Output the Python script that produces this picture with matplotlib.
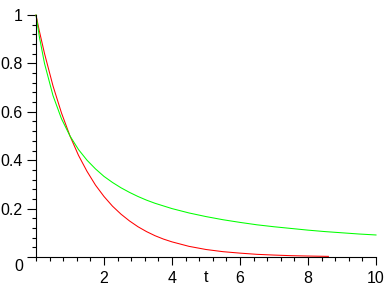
import matplotlib
matplotlib.use('Agg')
import matplotlib.pyplot as plt
from matplotlib.ticker import MultipleLocator
from matplotlib.transforms import ScaledTranslation

# valeurs
t_red = [0, 0.1, 0.25, 0.5, 0.75, 1, 1.25, 1.5, 1.75, 2, 2.25, 2.5, 2.75, 3, 3.25, 3.5,
         3.75, 4, 4.5, 5, 5.5, 6, 6.5, 7, 7.5, 8, 8.6]
y_red = [1, 0.933, 0.841, 0.707, 0.595, 0.5, 0.42, 0.354, 0.297, 0.25, 0.21, 0.177, 0.149,
         0.125, 0.105, 0.088, 0.074, 0.0625, 0.044, 0.031, 0.022, 0.016, 0.011, 0.008,
         0.0055, 0.004, 0.0026]
t_green = [0, 0.1, 0.25, 0.5, 0.75, 1, 1.25, 1.5, 1.75, 2, 2.25, 2.5, 2.75, 3, 3.25, 3.5,
           3.75, 4, 4.5, 5, 5.5, 6, 6.5, 7, 7.5, 8, 8.5, 9, 9.5, 10]
y_green = [1, 0.909, 0.8, 0.667, 0.571, 0.5, 0.444, 0.4, 0.364, 0.333, 0.308, 0.286, 0.267,
           0.25, 0.235, 0.222, 0.211, 0.2, 0.182, 0.167, 0.154, 0.143, 0.133, 0.125, 0.118,
           0.111, 0.105, 0.1, 0.095, 0.091]
xticks = [2, 4, 6, 8, 10]
yticks = [0, 0.2, 0.4, 0.6, 0.8, 1]
ylabels = ['0', '0.2', '0.4', '0.6', '0.8', '1']

plt.rcParams['font.family'] = ['Liberation Sans', 'DejaVu Sans']
fig = plt.figure(figsize=(3.88, 2.88), dpi=100)
ax = fig.add_axes([36/388, 31/288, 340/388, 242/288])

ax.plot(t_red, y_red, color='#ff0000', lw=0.75, clip_on=False)
ax.plot(t_green, y_green, color='#00ff00', lw=0.75, clip_on=False)

ax.set_xlim(0, 10); ax.set_ylim(0, 1)
for s in ['top', 'right']: ax.spines[s].set_visible(False)
for s in ['left', 'bottom']: ax.spines[s].set_linewidth(0.8)

ax.set_xticks(xticks); ax.xaxis.set_minor_locator(MultipleLocator(0.4))
ax.set_yticks(yticks); ax.set_yticklabels(ylabels)
ax.yaxis.set_minor_locator(MultipleLocator(0.04))
ax.tick_params(which='major', width=0.8, labelsize=11.5, direction='out')
ax.tick_params(which='minor', length=2.9, width=0.8, direction='out')
ax.tick_params(axis='x', which='major', length=5.8, pad=4)
ax.tick_params(axis='y', which='major', length=6.5, pad=3)

# le "0" de Maple est décalé sous l'axe
lab0 = ax.get_yticklabels()[0]
lab0.set_transform(lab0.get_transform() + ScaledTranslation(0, -8/100, fig.dpi_scale_trans))

ax.annotate('t', xy=(5, 0), xycoords=('data', 'axes fraction'), xytext=(0, -13),
            textcoords='offset pixels', ha='center', va='top', fontsize=11.5)

fig.savefig('out.png', dpi=100)
